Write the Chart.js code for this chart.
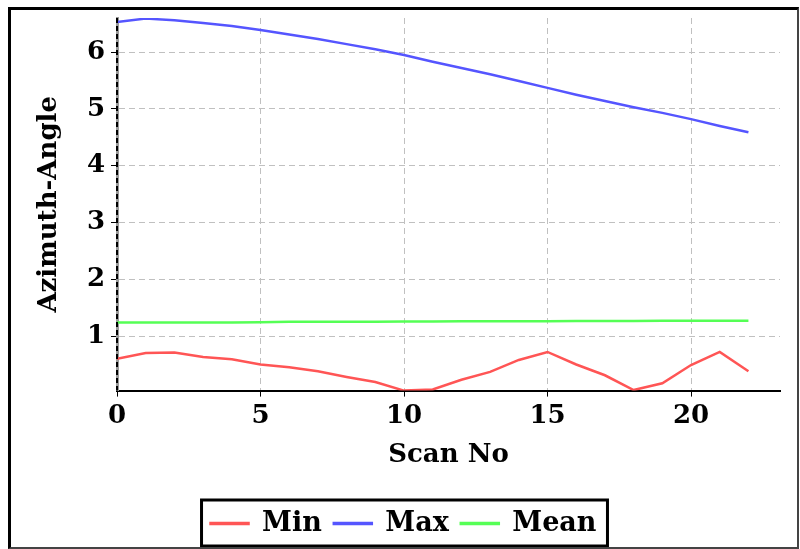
<!DOCTYPE html>
<html>
<head>
<meta charset="utf-8">
<script src="https://cdn.jsdelivr.net/npm/chart.js@4"></script>
<style>
  body { margin: 0; background: #fff; }
  #frame {
    position: absolute; left: 8px; top: 7px;
    width: 786px; height: 537px;
    border-left: 3px solid #000; border-top: 3px solid #000;
    border-right: 2px solid #444; border-bottom: 2px solid #444;
  }
  #frame canvas { display: block; }
</style>
</head>
<body>
<div id="frame"><canvas id="azimuth"></canvas></div>
<script>
const scanNo = [0,1,2,3,4,5,6,7,8,9,10,11,12,13,14,15,16,17,18,19,20,21,22];
const minVals = [0.60,0.70,0.71,0.63,0.59,0.50,0.45,0.38,0.28,0.19,0.04,0.06,0.23,0.37,0.58,0.72,0.50,0.31,0.05,0.17,0.49,0.72,0.38];
const maxVals = [6.53,6.59,6.56,6.51,6.46,6.39,6.31,6.23,6.14,6.05,5.95,5.83,5.72,5.61,5.49,5.37,5.25,5.14,5.03,4.93,4.82,4.70,4.59];
const meanVals = [1.24,1.24,1.24,1.24,1.24,1.245,1.25,1.25,1.25,1.25,1.255,1.255,1.26,1.26,1.26,1.26,1.265,1.265,1.265,1.27,1.27,1.27,1.27];
const xTicks = [0,5,10,15,20];
const yTicks = [1,2,3,4,5,6];

const font = { family: 'DejaVu Serif', weight: 'bold', size: 26 };

// box round the legend + dashed black y axis line, like the original
const extras = {
  id: 'extras',
  afterUpdate(chart) {
    // nudge the legend a little to the right
    const lg = chart.legend;
    if (!lg) return;
    lg.left += 8;
    lg.right += 8;
    lg.legendHitBoxes.forEach(b => { b.left += 8; });
  },
  afterDraw(chart) {
    const c = chart.ctx;
    const area = chart.chartArea;
    c.save();
    c.strokeStyle = '#000';
    c.lineWidth = 2;
    c.setLineDash([5, 3]);
    c.beginPath();
    c.moveTo(area.left, area.top);
    c.lineTo(area.left, area.bottom);
    c.stroke();
    c.restore();

    const lg = chart.legend;
    if (!lg || !lg.legendHitBoxes.length) return;
    const boxes = lg.legendHitBoxes;
    const left = Math.min(...boxes.map(b => b.left)) - 9;
    const right = Math.max(...boxes.map(b => b.left + b.width)) + 11;
    c.save();
    c.strokeStyle = '#000';
    c.lineWidth = 3;
    c.strokeRect(left, lg.top + 2, right - left, lg.height - 3);
    c.restore();
  }
};

const ctx = document.getElementById('azimuth').getContext('2d');
new Chart(ctx, {
  type: 'line',
  data: {
    labels: scanNo,
    datasets: [
      { label: 'Min', data: minVals, borderColor: '#ff5555', backgroundColor: '#ff5555' },
      { label: 'Max', data: maxVals, borderColor: '#5555ff', backgroundColor: '#5555ff' },
      { label: 'Mean', data: meanVals, borderColor: '#55ff55', backgroundColor: '#55ff55' },
    ].map(ds => ({ ...ds, borderWidth: 2.5, pointRadius: 0, tension: 0, fill: false }))
  },
  options: {
    responsive: true,
    maintainAspectRatio: false,
    animation: false,
    layout: { padding: { top: 8, right: 17, bottom: 0, left: 0 } },
    plugins: {
      legend: {
        position: 'bottom',
        labels: { color: '#000', font: { ...font, size: 27 }, boxWidth: 38, boxHeight: 1, padding: 12 }
      },
      tooltip: { enabled: false }
    },
    scales: {
      x: {
        type: 'linear',
        min: 0, max: 23.1,
        afterBuildTicks: s => { s.ticks = xTicks.map(v => ({ value: v })); },
        afterFit: s => { s.paddingLeft = 0; s.paddingRight = 0; },
        ticks: { color: '#000', font, padding: 4, includeBounds: false },
        grid: { color: '#c0c0c0', tickColor: '#000', tickLength: 6, lineWidth: 1 },
        border: { color: '#000', width: 2, dash: [6, 4] },
        title: { display: true, text: 'Scan No', color: '#000', font, padding: { top: 4, bottom: 27 } }
      },
      y: {
        min: 0.04, max: 6.6,
        afterBuildTicks: s => { s.ticks = yTicks.map(v => ({ value: v })); },
        afterFit: s => { s.width = 106; s.paddingTop = 0; s.paddingBottom = 0; },
        ticks: { color: '#000', font, padding: 6, includeBounds: false },
        grid: { color: '#c0c0c0', tickColor: '#000', tickLength: 6, lineWidth: 1 },
        border: { color: '#999', width: 3, dash: [6, 4] },
        title: { display: true, text: 'Azimuth-Angle', color: '#000', font, padding: { top: 23, bottom: 0 } }
      }
    }
  },
  plugins: [extras]
});
</script>
</body>
</html>
